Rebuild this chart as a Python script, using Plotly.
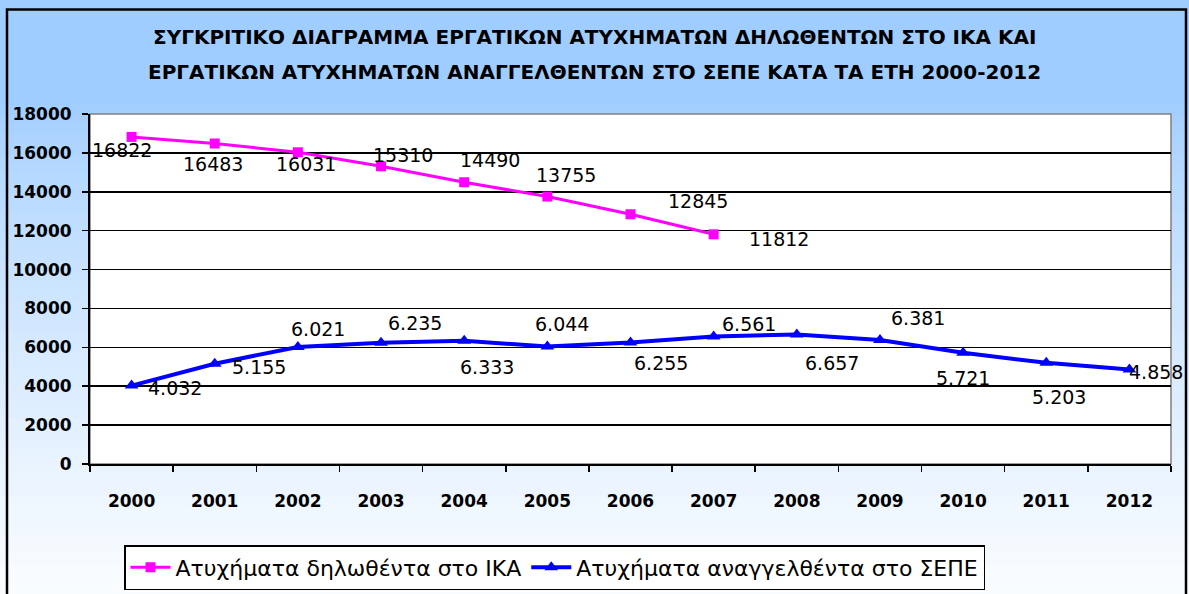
import plotly.graph_objects as go

# ---- data ----
years = ["2000", "2001", "2002", "2003", "2004", "2005", "2006",
         "2007", "2008", "2009", "2010", "2011", "2012"]
ika_years = years[:8]
ika_values = [16822, 16483, 16031, 15310, 14490, 13755, 12845, 11812]
ika_labels = ["16822", "16483", "16031", "15310", "14490", "13755", "12845", "11812"]
sepe_values = [4032, 5155, 6021, 6235, 6333, 6044, 6255, 6561, 6657, 6381, 5721, 5203, 4858]
sepe_labels = ["4.032", "5.155", "6.021", "6.235", "6.333", "6.044", "6.255",
               "6.561", "6.657", "6.381", "5.721", "5.203", "4.858"]
ika_name = "Ατυχήματα δηλωθέντα στο ΙΚΑ"
sepe_name = "Ατυχήματα αναγγελθέντα στο ΣΕΠΕ"
title_lines = ["ΣΥΓΚΡΙΤΙΚΟ ΔΙΑΓΡΑΜΜΑ ΕΡΓΑΤΙΚΩΝ ΑΤΥΧΗΜΑΤΩΝ ΔΗΛΩΘΕΝΤΩΝ ΣΤΟ ΙΚΑ ΚΑΙ",
               "ΕΡΓΑΤΙΚΩΝ ΑΤΥΧΗΜΑΤΩΝ ΑΝΑΓΓΕΛΘΕΝΤΩΝ ΣΤΟ ΣΕΠΕ ΚΑΤΑ ΤΑ ΕΤΗ 2000-2012"]

# label offsets (pixels, dx right / dy up) -- styling only
ika_off = [(-10, -13), (-2, -20), (8, -12), (22, 11), (26, 22), (19, 22), (67, 13), (65, -5)]
sepe_off = [(43, -2), (44, -3), (20, 18), (34, 20), (23, -26), (15, 22), (30, -21),
            (35, 12), (35, -28), (38, 22), (0, -25), (13, -34), (27, -2)]

W, H = 1189, 594
L, R, T, B = 90, 18, 114, 130
PW, PH = W - L - R, H - T - B

def px(x):
    return (x - L) / PW

def py(y):
    return (H - B - y) / PH

FONT = "DejaVu Sans"
fig = go.Figure()

fig.add_trace(go.Scatter(
    x=ika_years, y=ika_values, name=ika_name, mode="lines+markers",
    line=dict(color="#FF00FF", width=3),
    marker=dict(symbol="square", size=10, color="#FF00FF"),
    cliponaxis=False,
))
fig.add_trace(go.Scatter(
    x=years, y=sepe_values, name=sepe_name, mode="lines+markers",
    line=dict(color="#0000FF", width=4),
    marker=dict(symbol="triangle-up", size=12, color="#0000FF"),
    cliponaxis=False,
))

annotations = []
for i, (yv, t, (dx, dy)) in enumerate(zip(ika_values, ika_labels, ika_off)):
    annotations.append(dict(x=i, y=yv, text=t, showarrow=False, xshift=dx, yshift=dy,
                            font=dict(family=FONT, size=19, color="black")))
for i, (yv, t, (dx, dy)) in enumerate(zip(sepe_values, sepe_labels, sepe_off)):
    annotations.append(dict(x=i, y=yv, text=t, showarrow=False, xshift=dx, yshift=dy,
                            font=dict(family=FONT, size=19, color="black")))
for line, ypix in zip(title_lines, [37, 72]):
    annotations.append(dict(xref="paper", yref="paper", x=px(W / 2), y=py(ypix),
                            xanchor="center", yanchor="middle", text="<b>%s</b>" % line,
                            showarrow=False,
                            font=dict(family=FONT, size=20, color="black")))

# background gradient (stepped) + frame
shapes = []
top = (160, 205, 255)
bot = (251, 253, 255)
g0 = 105
shapes.append(dict(type="rect", xref="paper", yref="paper", layer="below",
                   x0=px(0), x1=px(W), y0=py(0), y1=py(g0),
                   fillcolor="rgb(%d,%d,%d)" % top, line=dict(width=0)))
n = 50
for i in range(n):
    y0p = g0 + (H - g0) * i / n
    y1p = g0 + (H - g0) * (i + 1) / n
    f = ((i + 0.5) / n) ** 0.75
    c = tuple(round(top[k] + (bot[k] - top[k]) * f) for k in range(3))
    shapes.append(dict(type="rect", xref="paper", yref="paper", layer="below",
                       x0=px(0), x1=px(W), y0=py(y0p), y1=py(y1p + 1),
                       fillcolor="rgb(%d,%d,%d)" % c, line=dict(width=0)))
# white plot area with gray top/right border
shapes.append(dict(type="rect", xref="paper", yref="paper", layer="below",
                   x0=0, x1=1, y0=0, y1=1, fillcolor="white",
                   line=dict(color="#808080", width=1.5)))
# outer frame
shapes.append(dict(type="rect", xref="paper", yref="paper",
                   x0=px(7), x1=px(1186), y0=py(9.5), y1=py(H + 5),
                   line=dict(color="black", width=2.5)))

fig.update_layout(
    width=W, height=H,
    margin=dict(l=L, r=R, t=T, b=B, autoexpand=False),
    paper_bgcolor="white",
    plot_bgcolor="white",
    showlegend=True,
    hovermode=False,
    legend=dict(orientation="h", x=px(124), y=py(545), xanchor="left", yanchor="top",
                bgcolor="white", bordercolor="black", borderwidth=1.5,
                font=dict(family=FONT, size=22, color="black"),
                itemwidth=40, tracegroupgap=0),
    annotations=annotations,
    shapes=shapes,
    xaxis=dict(type="category", categoryorder="array", categoryarray=years,
               showgrid=False, showline=True, linecolor="black", linewidth=2,
               ticks="outside", tickson="boundaries", ticklen=6, tickcolor="black",
               tickwidth=1.5, ticklabelstandoff=21,
               tickfont=dict(family=FONT, size=17, color="black", weight="bold"),
               range=[-0.5, 12.5], fixedrange=True),
    yaxis=dict(range=[0, 18000], dtick=2000, tick0=0, showgrid=True,
               gridcolor="black", gridwidth=1.5, zeroline=False,
               showline=True, linecolor="black", linewidth=2,
               ticks="outside", ticklen=6, tickcolor="black", tickwidth=1.5,
               ticklabelstandoff=7, tickformat="d",
               tickfont=dict(family=FONT, size=17, color="black", weight="bold"),
               fixedrange=True),
)

fig.write_html(
    "out.html",
    config={"displayModeBar": False, "staticPlot": True},
    post_script="document.body.style.margin='0';document.body.style.overflow='hidden';",
)
